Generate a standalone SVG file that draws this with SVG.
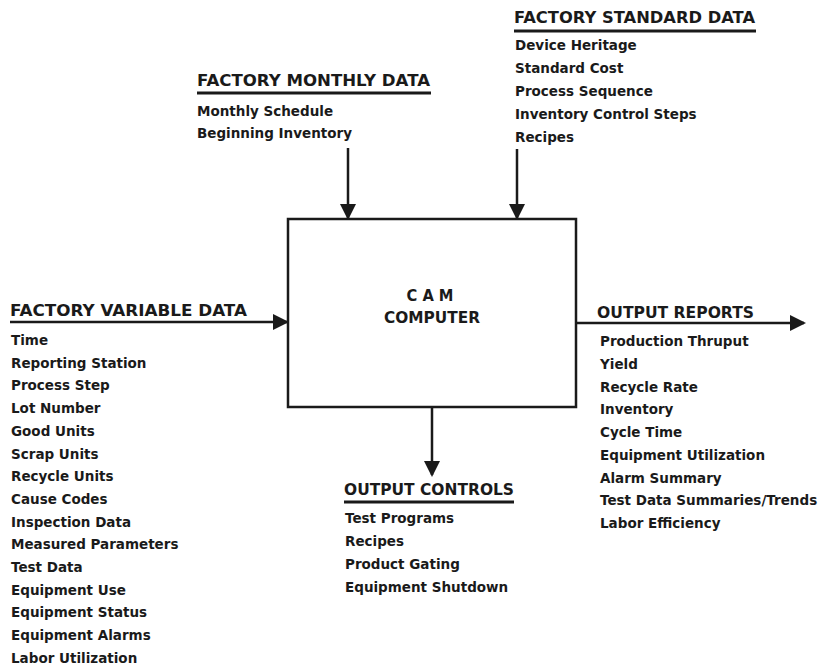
<svg xmlns="http://www.w3.org/2000/svg" width="820" height="666" viewBox="0 0 820 666">
<style>
.h{font-family:"DejaVu Sans","Liberation Sans",sans-serif;font-weight:bold;font-size:16px;fill:#1a1a1a}
.i{font-family:"DejaVu Sans","Liberation Sans",sans-serif;font-weight:bold;font-size:13.5px;fill:#1a1a1a}
.c{font-family:"DejaVu Sans","Liberation Sans",sans-serif;font-weight:bold;font-size:15px;fill:#1a1a1a;text-anchor:middle}
.ln{stroke:#1a1a1a;stroke-width:2.5;fill:none}
.ul{stroke:#1a1a1a;stroke-width:3}
</style>
<defs>
<marker id="ah" markerUnits="userSpaceOnUse" markerWidth="16" markerHeight="16" viewBox="0 0 16 16" refX="14" refY="8" orient="auto">
<path d="M0,0 L16,8 L0,16 Z" fill="#1a1a1a"/>
</marker>
</defs>
<rect width="820" height="666" fill="#fff"/>
<g id="connectors">
<line class="ln" x1="348" y1="148" x2="348" y2="218" marker-end="url(#ah)"/>
<line class="ln" x1="517" y1="149" x2="517" y2="218" marker-end="url(#ah)"/>
<line class="ln" x1="10" y1="322" x2="287" y2="322" marker-end="url(#ah)"/>
<line class="ln" x1="576" y1="323" x2="804" y2="323" marker-end="url(#ah)"/>
<line class="ln" x1="432" y1="407" x2="432" y2="475" marker-end="url(#ah)"/>
</g>
<g id="cam">
<rect x="288" y="219" width="288" height="188" fill="none" stroke="#1a1a1a" stroke-width="2.5"/>
<text class="c" x="430" y="301" textLength="47" lengthAdjust="spacingAndGlyphs">C A M</text>
<text class="c" x="432" y="323" textLength="96" lengthAdjust="spacingAndGlyphs">COMPUTER</text>
</g>
<g id="factory-monthly-data">
<text class="h" x="197" y="86" textLength="233" lengthAdjust="spacingAndGlyphs">FACTORY MONTHLY DATA</text>
<line class="ul" x1="197" y1="93" x2="431" y2="93"/>
<text class="i" x="197" y="116">Monthly Schedule</text>
<text class="i" x="197" y="138">Beginning Inventory</text>
</g>
<g id="factory-standard-data">
<text class="h" x="514" y="23" textLength="241" lengthAdjust="spacingAndGlyphs">FACTORY STANDARD DATA</text>
<line class="ul" x1="514" y1="31" x2="756" y2="31"/>
<text class="i" x="515" y="50">Device Heritage</text>
<text class="i" x="515" y="73">Standard Cost</text>
<text class="i" x="515" y="96">Process Sequence</text>
<text class="i" x="515" y="119">Inventory Control Steps</text>
<text class="i" x="515" y="142">Recipes</text>
</g>
<g id="factory-variable-data">
<text class="h" x="10" y="316" textLength="237" lengthAdjust="spacingAndGlyphs">FACTORY VARIABLE DATA</text>
<text class="i" x="11" y="345">Time</text>
<text class="i" x="11" y="367.7">Reporting Station</text>
<text class="i" x="11" y="390.4">Process Step</text>
<text class="i" x="11" y="413.1">Lot Number</text>
<text class="i" x="11" y="435.8">Good Units</text>
<text class="i" x="11" y="458.5">Scrap Units</text>
<text class="i" x="11" y="481.2">Recycle Units</text>
<text class="i" x="11" y="503.9">Cause Codes</text>
<text class="i" x="11" y="526.6">Inspection Data</text>
<text class="i" x="11" y="549.3">Measured Parameters</text>
<text class="i" x="11" y="572">Test Data</text>
<text class="i" x="11" y="594.7">Equipment Use</text>
<text class="i" x="11" y="617.4">Equipment Status</text>
<text class="i" x="11" y="640.1">Equipment Alarms</text>
<text class="i" x="11" y="662.8">Labor Utilization</text>
</g>
<g id="output-reports">
<text class="h" x="597" y="318" textLength="157" lengthAdjust="spacingAndGlyphs">OUTPUT REPORTS</text>
<text class="i" x="600" y="346">Production Thruput</text>
<text class="i" x="600" y="368.75">Yield</text>
<text class="i" x="600" y="391.5">Recycle Rate</text>
<text class="i" x="600" y="414.25">Inventory</text>
<text class="i" x="600" y="437">Cycle Time</text>
<text class="i" x="600" y="459.75">Equipment Utilization</text>
<text class="i" x="600" y="482.5">Alarm Summary</text>
<text class="i" x="600" y="505.25">Test Data Summaries/Trends</text>
<text class="i" x="600" y="528">Labor Efficiency</text>
</g>
<g id="output-controls">
<text class="h" x="344" y="495" textLength="170" lengthAdjust="spacingAndGlyphs">OUTPUT CONTROLS</text>
<line class="ul" x1="344" y1="502" x2="514" y2="502"/>
<text class="i" x="345" y="523">Test Programs</text>
<text class="i" x="345" y="546">Recipes</text>
<text class="i" x="345" y="569">Product Gating</text>
<text class="i" x="345" y="592">Equipment Shutdown</text>
</g>
</svg>
